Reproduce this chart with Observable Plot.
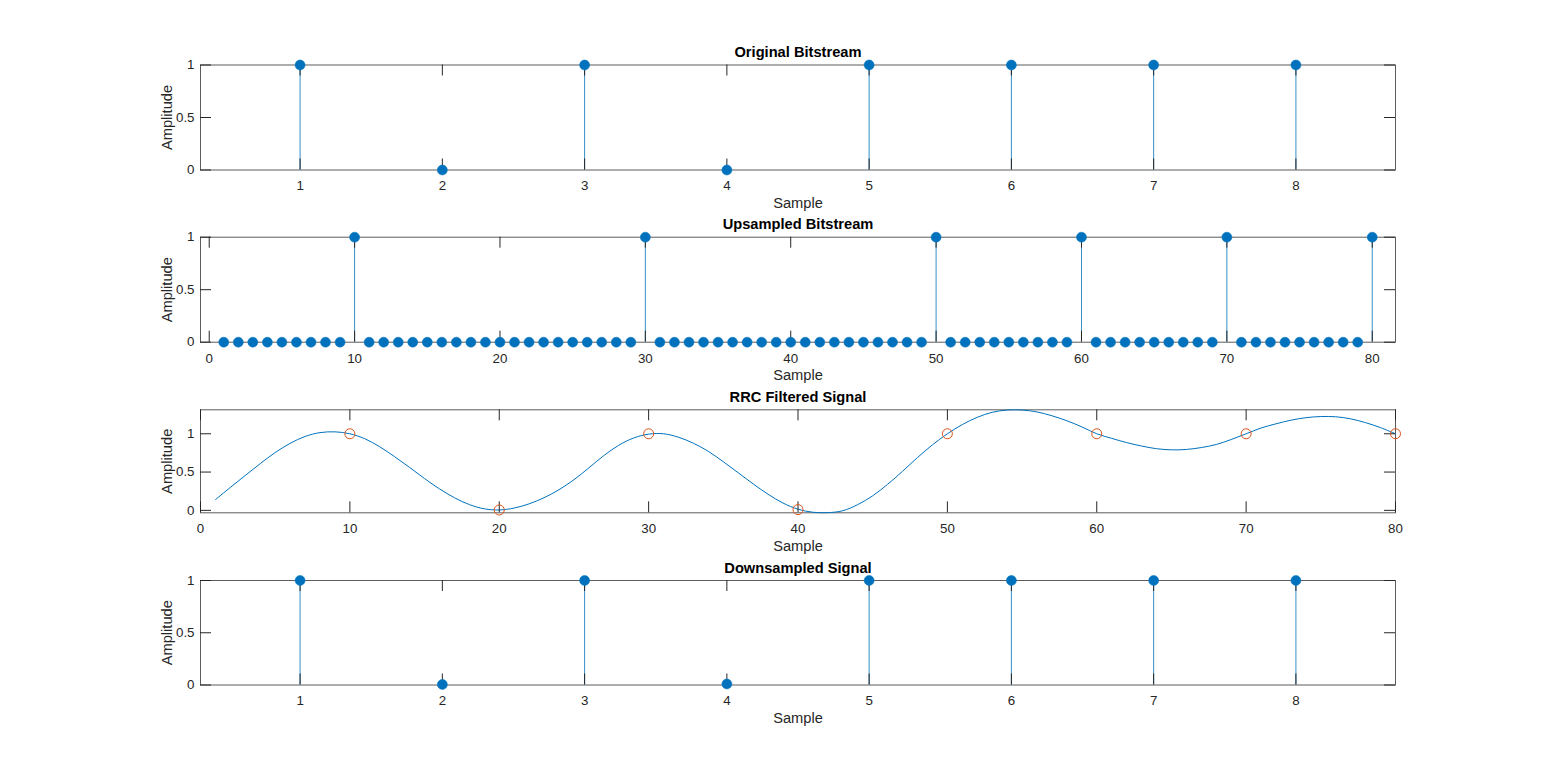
<!DOCTYPE html>
<html><head><meta charset="utf-8">
<script src="https://cdn.jsdelivr.net/npm/d3@7"></script>
<script src="https://cdn.jsdelivr.net/npm/@observablehq/plot@0.6"></script>
<style>
html,body{margin:0;padding:0;background:#fff;}
body{width:1541px;height:783px;overflow:hidden;position:relative;font-family:"Liberation Sans",Arial,Helvetica,sans-serif;}
.panel{position:absolute;left:0;}
</style></head><body><div id="root"></div>
<script>
// ---- data ----
const bitIndex = [1, 2, 3, 4, 5, 6, 7, 8];
const bits = [1, 0, 1, 0, 1, 1, 1, 1];
const upsampled = [
  0,0,0,0,0,0,0,0,0,1,
  0,0,0,0,0,0,0,0,0,0,
  0,0,0,0,0,0,0,0,0,1,
  0,0,0,0,0,0,0,0,0,0,
  0,0,0,0,0,0,0,0,0,1,
  0,0,0,0,0,0,0,0,0,1,
  0,0,0,0,0,0,0,0,0,1,
  0,0,0,0,0,0,0,0,0,1
];
const rrcSignal = [
  0.14, 0.30, 0.456, 0.61, 0.755, 0.875, 0.965, 1.015, 1.025, 1.0,
  0.935, 0.83, 0.70, 0.56, 0.415, 0.28, 0.165, 0.075, 0.02, 0.005,
  0.03, 0.085, 0.165, 0.27, 0.40, 0.555, 0.715, 0.85, 0.945, 0.995,
  1.0, 0.955, 0.876, 0.77, 0.635, 0.49, 0.345, 0.21, 0.095, 0.015,
  -0.025, -0.03, -0.005, 0.075, 0.19, 0.34, 0.51, 0.69, 0.855, 1.0,
  1.12, 1.215, 1.28, 1.31, 1.31, 1.285, 1.235, 1.17, 1.09, 1.0,
  0.94, 0.885, 0.84, 0.805, 0.79, 0.795, 0.82, 0.86, 0.925, 1.0,
  1.075, 1.13, 1.177, 1.21, 1.225, 1.222, 1.195, 1.145, 1.08, 1.0
];
const sampleInstants = [10, 20, 30, 40, 50, 60, 70, 80];
const downsampled = [1, 0.005, 1, 0.01, 1, 1, 1, 1];
const ampTicks = [0, 0.5, 1];
const bitTicks = [1, 2, 3, 4, 5, 6, 7, 8];
const sampleTicks = [0, 10, 20, 30, 40, 50, 60, 70, 80];
const titles = ["Original Bitstream", "Upsampled Bitstream", "RRC Filtered Signal", "Downsampled Signal"];
const xLabel = "Sample";
const yLabel = "Amplitude";

// ---- styling ----
const W = 1541, FL = 200, FR = 1395;
const AX = "#262626";
const BLUE = "#0072BD", ORANGE = "#D95319";
const FONT = '"Liberation Sans", Arial, Helvetica, sans-serif';
const TL = 11;

const bitRows = bitIndex.map((x, i) => ({x, y: bits[i]}));
const upRows = upsampled.map((y, i) => ({x: i + 1, y}));
const rrcRows = rrcSignal.map((y, i) => ({x: i + 1, y}));
const sampRows = sampleInstants.map((x, i) => ({x, y: downsampled[i]}));
const downRows = bitIndex.map((x, i) => ({x, y: downsampled[i]}));

function panel({bandTop, bandBottom, top, h, xDomain, yDomain, xTicks, title, data}) {
  const marginTop = top - bandTop;
  const marginBottom = bandBottom - (top + h);
  const height = bandBottom - bandTop;
  const fw = FR - FL;
  const p = Plot.plot({
    width: W, height, marginLeft: FL, marginRight: W - FR, marginTop, marginBottom,
    x: {domain: xDomain}, y: {domain: yDomain},
    style: {background: "transparent", overflow: "visible", fontFamily: FONT, color: AX},
    marks: [
      Plot.frame({stroke: "#5c5c5c", strokeWidth: 1}),
      ...data.before,
      Plot.tickX(xTicks, {x: d => d, insetTop: h - TL, stroke: AX, strokeWidth: 1}),
      Plot.tickX(xTicks, {x: d => d, insetBottom: h - TL, stroke: AX, strokeWidth: 1}),
      Plot.tickY(ampTicks, {y: d => d, insetRight: fw - TL, stroke: AX, strokeWidth: 1}),
      Plot.tickY(ampTicks, {y: d => d, insetLeft: fw - TL, stroke: AX, strokeWidth: 1}),
      Plot.axisX({ticks: xTicks, tickSize: 0, tickPadding: 11, fontSize: 13.33, label: null, tickFormat: d => String(d)}),
      Plot.axisY({ticks: ampTicks, tickSize: 0, tickPadding: 6, fontSize: 13.33, label: null, tickFormat: d => String(d)}),
      Plot.text([title], {text: d => d, frameAnchor: "top", textAnchor: "middle", dy: -8, lineAnchor: "bottom", fontWeight: "bold", fontSize: 14.67, fill: "#000"}),
      Plot.text([xLabel], {text: d => d, frameAnchor: "bottom", textAnchor: "middle", dy: 38, lineAnchor: "bottom", fontSize: 14.67, fill: AX}),
      Plot.text([yLabel], {text: d => d, frameAnchor: "left", textAnchor: "middle", dx: -29, rotate: -90, lineAnchor: "bottom", fontSize: 14.67, fill: AX}),
      ...data.after
    ]
  });
  p.classList.add("panel");
  p.style.top = bandTop + "px";
  document.getElementById("root").appendChild(p);
}

function stemMarks(rows) {
  return {
    before: [Plot.ruleX(rows, {x: "x", y1: 0, y2: "y", stroke: BLUE, strokeWidth: 0.8})],
    after: [Plot.dot(rows, {x: "x", y: "y", r: 5, fill: BLUE, stroke: BLUE, strokeWidth: 0.5})]
  };
}

panel({bandTop: 0, bandBottom: 215, top: 64.5, h: 105, xDomain: [0.3, 8.7], yDomain: [0, 1],
  xTicks: bitTicks, title: titles[0], data: stemMarks(bitRows)});
panel({bandTop: 215, bandBottom: 387, top: 236.7, h: 105, xDomain: [-0.6, 81.6], yDomain: [0, 1],
  xTicks: sampleTicks, title: titles[1], data: stemMarks(upRows)});
panel({bandTop: 387, bandBottom: 558, top: 409.3, h: 103, xDomain: [0, 80], yDomain: [-0.032, 1.313],
  xTicks: sampleTicks, title: titles[2], data: {
    before: [Plot.line(rrcRows, {x: "x", y: "y", stroke: BLUE, strokeWidth: 1, curve: "catmull-rom"})],
    after: [Plot.dot(sampRows, {x: "x", y: "y", r: 5, stroke: ORANGE, fill: "none", strokeWidth: 1})]
  }});
panel({bandTop: 558, bandBottom: 783, top: 580, h: 104.5, xDomain: [0.3, 8.7], yDomain: [0, 1],
  xTicks: bitTicks, title: titles[3], data: stemMarks(downRows)});
</script>
</body></html>
